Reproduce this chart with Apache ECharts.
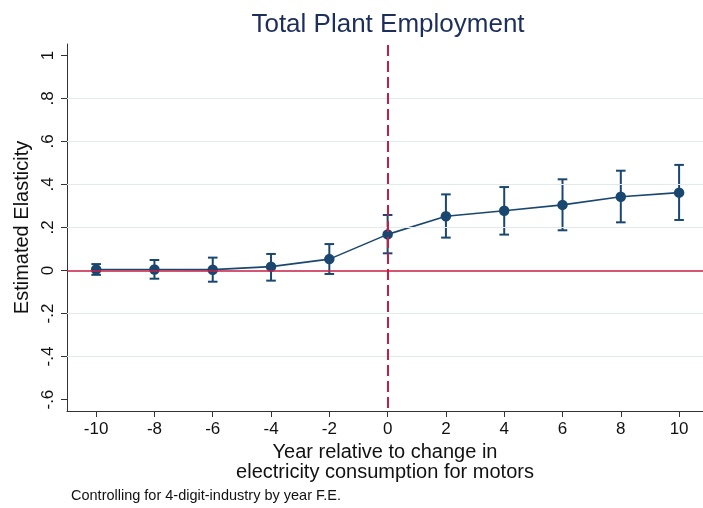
<!DOCTYPE html>
<html>
<head>
<meta charset="utf-8">
<script src="https://cdn.jsdelivr.net/npm/echarts@6/dist/echarts.min.js"></script>
<style>
html,body{margin:0;padding:0;background:#fff;}
#chart{width:703px;height:508px;}
</style>
</head>
<body>
<div id="chart"></div>
<script>
const years = [-10, -8, -6, -4, -2, 0, 2, 4, 6, 8, 10];
const estimate = [0.005, 0.005, 0.004, 0.018, 0.053, 0.168, 0.252, 0.278, 0.305, 0.343, 0.362];
const ciLow = [-0.020, -0.038, -0.052, -0.047, -0.016, 0.080, 0.153, 0.167, 0.187, 0.224, 0.235];
const ciHigh = [0.030, 0.049, 0.060, 0.077, 0.123, 0.258, 0.354, 0.388, 0.424, 0.464, 0.491];
const xTicks = [-10, -8, -6, -4, -2, 0, 2, 4, 6, 8, 10];
const yTicks = [-0.6, -0.4, -0.2, 0, 0.2, 0.4, 0.6, 0.8, 1];
const yGridValues = [-0.4, -0.2, 0.2, 0.4, 0.6, 0.8];

const FONT = '"Liberation Sans", Arial, sans-serif';
const NAVY = '#1a476f';
const RED = '#c91c45';

const chart = echarts.init(document.getElementById('chart'), null, {renderer: 'canvas'});

function fmtY(v) {
  if (Math.abs(v) < 1e-9) return '0';
  const s = String(Math.abs(+v.toFixed(2))).replace(/^0/, '');
  return (v < 0 ? '-' : '') + s;
}

const option = {
  animation: false,
  backgroundColor: '#ffffff',
  title: [
    {
      text: 'Total Plant Employment',
      left: 388,
      top: 12,
      padding: 0,
      textAlign: 'center',
      textStyle: {fontFamily: FONT, fontSize: 26, fontWeight: 'normal', color: '#1c2e5b'}
    },
    {
      text: 'Controlling for 4-digit-industry by year F.E.',
      left: 71,
      top: 488,
      padding: 0,
      textStyle: {fontFamily: FONT, fontSize: 14.5, fontWeight: 'normal', color: '#111'}
    }
  ],
  grid: {left: 67, right: 0, top: 44, bottom: 97, containLabel: false},
  xAxis: {
    type: 'value',
    min: -11,
    max: 10.82,
    name: 'Year relative to change in\nelectricity consumption for motors',
    nameLocation: 'middle',
    nameGap: 28,
    nameTextStyle: {fontFamily: FONT, fontSize: 20, color: '#111', lineHeight: 20},
    axisLine: {show: true, onZero: false, lineStyle: {color: '#333', width: 1}},
    axisTick: {show: true, length: 6, customValues: xTicks, lineStyle: {color: '#333'}},
    axisLabel: {customValues: xTicks, fontFamily: FONT, fontSize: 17, color: '#111', margin: 10},
    splitLine: {show: false}
  },
  yAxis: {
    type: 'value',
    min: -0.653,
    max: 1.053,
    name: 'Estimated Elasticity',
    nameLocation: 'middle',
    nameGap: 32,
    nameRotate: 90,
    nameTextStyle: {fontFamily: FONT, fontSize: 20, color: '#111'},
    axisLine: {show: true, onZero: false, lineStyle: {color: '#333', width: 1}},
    axisTick: {show: true, length: 6, customValues: yTicks, lineStyle: {color: '#333'}},
    axisLabel: {customValues: yTicks, rotate: 90, formatter: fmtY, fontFamily: FONT, fontSize: 17, color: '#111', margin: 10},
    splitLine: {show: false}
  },
  series: [
    {
      type: 'line',
      name: 'grid',
      data: [],
      silent: true,
      z: 1,
      markLine: {
        silent: true,
        symbol: 'none',
        animation: false,
        label: {show: false},
        lineStyle: {color: '#e1eaed', width: 1.2, type: 'solid'},
        data: yGridValues.map(v => ({yAxis: v}))
      }
    },
    {
      type: 'line',
      name: 'ref',
      data: [],
      silent: true,
      z: 2,
      markLine: {
        silent: true,
        symbol: 'none',
        animation: false,
        label: {show: false},
        data: [
          {yAxis: 0, lineStyle: {color: RED, width: 1.6, type: 'solid'}},
          {xAxis: 0, lineStyle: {color: RED, width: 2, type: [11, 5], dashOffset: -3}}
        ]
      }
    },
    {
      type: 'custom',
      name: 'ci',
      z: 3,
      data: years.map((x, i) => [x, ciLow[i], ciHigh[i]]),
      renderItem: function (params, api) {
        const x = api.value(0);
        const pLo = api.coord([x, api.value(1)]);
        const pHi = api.coord([x, api.value(2)]);
        const w = 4.8;
        const st = {stroke: NAVY, lineWidth: 2};
        return {
          type: 'group',
          children: [
            {type: 'line', shape: {x1: pLo[0], y1: pLo[1], x2: pHi[0], y2: pHi[1]}, style: st},
            {type: 'line', shape: {x1: pLo[0] - w, y1: pLo[1], x2: pLo[0] + w, y2: pLo[1]}, style: st},
            {type: 'line', shape: {x1: pHi[0] - w, y1: pHi[1], x2: pHi[0] + w, y2: pHi[1]}, style: st}
          ]
        };
      }
    },
    {
      type: 'line',
      name: 'estimate',
      z: 4,
      data: years.map((x, i) => [x, estimate[i]]),
      symbol: 'circle',
      symbolSize: 10.5,
      lineStyle: {color: NAVY, width: 1.6},
      itemStyle: {color: NAVY, borderWidth: 0}
    }
  ]
};
chart.setOption(option);
</script>
</body>
</html>
